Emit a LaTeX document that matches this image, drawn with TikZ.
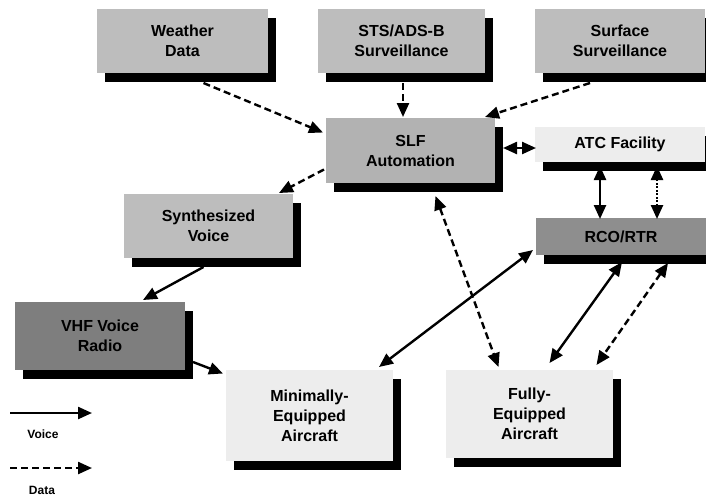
\documentclass[tikz,border=0pt]{standalone}
\usepackage{fontspec}
\setmainfont{Liberation Sans}
\usetikzlibrary{arrows.meta,calc,shadows}
\definecolor{midgrey}{HTML}{BDBDBD}
\definecolor{slfgrey}{HTML}{B2B2B2}
\definecolor{lightgrey}{HTML}{EDEDED}
\definecolor{rcogrey}{HTML}{8E8E8E}
\definecolor{vhfgrey}{HTML}{7E7E7E}
\tikzset{
  box/.style={rectangle, inner sep=0pt, outer sep=0pt, draw=none, align=center,
    font=\fontsize{16}{20}\selectfont\bfseries,
    drop shadow={shadow xshift=8pt, shadow yshift=-9pt, opacity=1, fill=black}},
  tip/.tip={Triangle[length=14pt,width=12pt]},
  conn/.style={line width=2.4pt, -tip},
  biconn/.style={line width=2.4pt, tip-tip},
  datadash/.style={dash pattern=on 7pt off 4pt},
  datadot/.style={dash pattern=on 2pt off 1.5pt},
  legendtext/.style={font=\fontsize{12}{14}\selectfont\bfseries, inner sep=0pt}
}
\begin{document}
\begin{tikzpicture}[x=1pt,y=-1pt]
\useasboundingbox (0,0) rectangle (706,499);
\fill[white] (0,0) rectangle (706,499);
\begin{scope}
\clip (0,0) rectangle (706,499);
% boxes
\node[box, fill=midgrey, minimum width=171pt, minimum height=64pt] (weather) at (182.5,41) {Weather\\Data};
\node[box, fill=midgrey, minimum width=167pt, minimum height=64pt] (sts) at (401.5,41) {STS/ADS-B\\Surveillance};
\node[box, fill=midgrey, minimum width=170pt, minimum height=64pt] (surface) at (620,41) {Surface\\Surveillance};
\node[box, fill=slfgrey, minimum width=169pt, minimum height=65pt] (slf) at (410.5,150.5) {SLF\\Automation};
\node[box, fill=lightgrey, minimum width=170pt, minimum height=35pt] (atc) at (620,144.5) {ATC Facility};
\node[box, fill=midgrey, minimum width=169pt, minimum height=64pt] (synth) at (208.5,226) {Synthesized\\Voice};
\node[box, fill=rcogrey, minimum width=170pt, minimum height=37pt] (rco) at (621,236.5) {RCO/RTR};
\node[box, fill=vhfgrey, minimum width=170pt, minimum height=68pt] (vhf) at (100,336) {VHF Voice\\Radio};
\node[box, fill=lightgrey, minimum width=167pt, minimum height=91pt] (mini) at (309.5,415.5) {Minimally-\\Equipped\\Aircraft};
\node[box, fill=lightgrey, minimum width=167pt, minimum height=88pt] (fully) at (529.5,414) {Fully-\\Equipped\\Aircraft};
% connectors
\draw[conn, datadash] ($(weather.south)+(21,10)$) -- ($(slf.west)+(-3,-18)$);
\draw[conn, datadash] ($(sts.south)+(1.5,10)$) -- ($(slf.north)+(-7.5,-1)$);
\draw[conn, datadash] ($(surface.south)+(-30,10)$) -- ($(slf.north east)+(-10,-1)$);
\draw[biconn] ($(slf.east)+(8,-2.5)$) -- ($(atc.west)+(1,3.5)$);
\draw[conn, datadash] ($(slf.west)+(-2,19)$) -- ($(synth.north east)+(-14,-1)$);
\draw[biconn] ($(atc.south)+(-20,4)$) -- ($(rco.north)+(-21,1)$);
\draw[biconn, datadot] ($(atc.south)+(37,4)$) -- ($(rco.north)+(36,1)$);
\draw[conn] ($(synth.south)+(-5,9)$) -- ($(vhf.north)+(43,-2)$);
\draw[conn] ($(vhf.east)+(8,26)$) -- ($(mini.west)+(-3,-42)$);
\draw[biconn] ($(mini.north east)+(-14,-3)$) -- ($(rco.south west)+(-3,-5)$);
\draw[biconn, datadash] ($(slf.south)+(25,13)$) -- ($(fully.north)+(-31,-3)$);
\draw[biconn] ($(rco.south)+(1,7)$) -- ($(fully.north)+(20,-7)$);
\draw[biconn, datadash] ($(rco.south)+(47,8)$) -- ($(fully.north)+(67,-5)$);
% legend
\coordinate (lv1) at (10,413);
\coordinate (lv2) at (92,413);
\coordinate (ld1) at (10,468);
\coordinate (ld2) at (92,468);
\draw[conn] (lv1) -- (lv2);
\draw[conn, datadash] (ld1) -- (ld2);
\node[legendtext] (lvoice) at (43,434) {Voice};
\node[legendtext] (ldata) at (42,490) {Data};
\end{scope}
\end{tikzpicture}
\end{document}
